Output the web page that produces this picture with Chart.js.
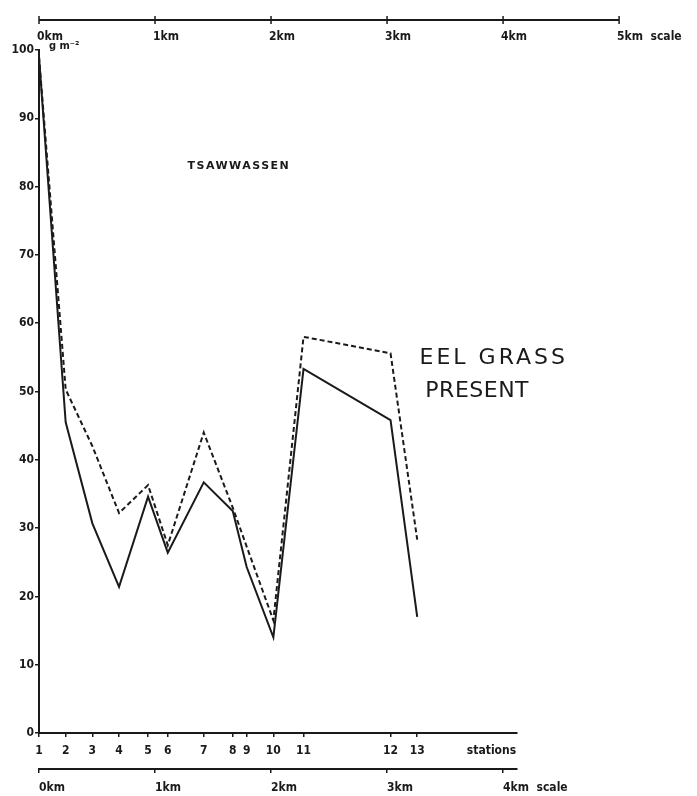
<!DOCTYPE html>
<html>
<head>
<meta charset="utf-8">
<script src="https://cdn.jsdelivr.net/npm/chart.js@4/dist/chart.umd.min.js"></script>
<style>
  html, body { margin: 0; padding: 0; background: #fff; }
</style>
</head>
<body>
<canvas id="myChart" width="697" height="796"></canvas>
<script>
// Estaciones y su posición a lo largo del transecto (km)
const stations = ['1', '2', '3', '4', '5', '6', '7', '8', '9', '10', '11', '12', '13'];
const stationKm = [0, 0.23, 0.46, 0.69, 0.94, 1.11, 1.42, 1.67, 1.79, 2.02, 2.28, 3.03, 3.26];

// Biomasa (g m-2)
const solidValues = [99, 45.5, 30.7, 21.4, 34.6, 26.4, 36.7, 32.5, 24.3, 14, 53.3, 45.8, 17];
const dashedValues = [99, 50.3, 42, 32.2, 36.3, 27.5, 44, 33, 27.3, 16.5, 58, 55.6, 28.3];

// Etiquetas de ejes
const yTicks = [0, 10, 20, 30, 40, 50, 60, 70, 80, 90, 100];
const topKm = [0, 1, 2, 3, 4, 5];
const topKmLabels = ['0km', '1km', '2km', '3km', '4km', '5km  scale'];
const bottomKm = [0, 1, 2, 3, 4];
const bottomKmLabels = ['0km', '1km', '2km', '3km', '4km  scale'];

const ink = '#1a1a1a';
const axisFont = { family: '"DejaVu Sans Condensed", "DejaVu Sans", sans-serif', size: 12, weight: 'bold' };
const xMax = 4.12;

// Textos sueltos y la escala superior
const notes = {
  id: 'notes',
  afterDraw(chart) {
    const { ctx, chartArea, scales: { x, y } } = chart;
    ctx.save();
    ctx.strokeStyle = ink;
    ctx.fillStyle = ink;

    // escala de 5 km arriba
    const barY = chartArea.top - 30;
    ctx.lineWidth = 2;
    ctx.beginPath();
    ctx.moveTo(x.getPixelForValue(topKm[0]), barY);
    ctx.lineTo(x.getPixelForValue(topKm[topKm.length - 1]), barY);
    ctx.stroke();
    ctx.lineWidth = 1.5;
    ctx.beginPath();
    topKm.forEach(k => {
      const px = x.getPixelForValue(k);
      ctx.moveTo(px, barY - 4);
      ctx.lineTo(px, barY + 4);
    });
    ctx.stroke();
    ctx.font = 'bold 12px "DejaVu Sans Condensed", "DejaVu Sans", sans-serif';
    ctx.textAlign = 'left';
    ctx.textBaseline = 'middle';
    topKm.forEach((k, i) => ctx.fillText(topKmLabels[i], x.getPixelForValue(k) - 2, barY + 17));

    // unidades
    ctx.font = 'bold 11px "DejaVu Sans Condensed", "DejaVu Sans", sans-serif';
    ctx.fillText('g m⁻²', x.getPixelForValue(0) + 10, chartArea.top - 4);

    // nombre del sitio
    ctx.font = 'bold 11px "DejaVu Sans", sans-serif';
    ctx.letterSpacing = '1.5px';
    ctx.fillText('TSAWWASSEN', x.getPixelForValue(1.28), y.getPixelForValue(83));

    // nota manuscrita
    ctx.font = '22px "DejaVu Sans", sans-serif';
    ctx.letterSpacing = '3px';
    ctx.fillText('EEL GRASS', x.getPixelForValue(3.28), y.getPixelForValue(54.9));
    ctx.letterSpacing = '0.5px';
    ctx.fillText('PRESENT', x.getPixelForValue(3.33), y.getPixelForValue(50));
    ctx.restore();
  }
};

const ctx = document.getElementById('myChart').getContext('2d');

const chart = new Chart(ctx, {
  type: 'line',
  data: {
    datasets: [{
      label: 'solid',
      data: stationKm.map((k, i) => ({ x: k, y: solidValues[i] })),
      borderColor: ink,
      borderWidth: 2,
      pointRadius: 0,
      tension: 0,
      fill: false
    }, {
      label: 'dashed',
      data: stationKm.map((k, i) => ({ x: k, y: dashedValues[i] })),
      borderColor: ink,
      borderWidth: 2,
      borderDash: [5, 3],
      pointRadius: 0,
      tension: 0,
      fill: false
    }]
  },
  options: {
    responsive: false,
    animation: false,
    events: [],
    layout: { padding: { top: 50, right: 180, bottom: 0, left: 0 } },
    plugins: {
      legend: { display: false },
      tooltip: { enabled: false }
    },
    scales: {
      x: {
        type: 'linear',
        position: 'bottom',
        weight: 1,
        min: 0,
        max: xMax,
        afterBuildTicks: (scale) => {
          scale.ticks = stationKm.map(v => ({ value: v })).concat([{ value: 3.9 }]);
        },
        afterFit: (scale) => { scale.height = 36; },
        border: { display: true, color: ink, width: 2 },
        grid: {
          drawOnChartArea: false,
          drawTicks: true,
          tickLength: 4,
          lineWidth: 1.5,
          color: (c) => c.index < stations.length ? ink : 'rgba(0,0,0,0)'
        },
        ticks: {
          autoSkip: false,
          maxRotation: 0,
          padding: 7,
          color: ink,
          font: axisFont,
          callback: (value, index) => index < stations.length ? stations[index] : 'stations'
        }
      },
      xkm: {
        type: 'linear',
        position: 'bottom',
        weight: 2,
        min: 0,
        max: xMax,
        afterBuildTicks: (scale) => {
          scale.ticks = bottomKm.map(v => ({ value: v }));
        },
        afterFit: (scale) => { scale.height = 27; },
        border: { display: true, color: ink, width: 2 },
        grid: {
          drawOnChartArea: false,
          drawTicks: true,
          tickLength: 4,
          lineWidth: 1.5,
          color: ink
        },
        ticks: {
          autoSkip: false,
          maxRotation: 0,
          align: 'start',
          padding: 8,
          color: ink,
          font: axisFont,
          callback: (value, index) => bottomKmLabels[index]
        }
      },
      y: {
        min: 0,
        max: 100,
        afterBuildTicks: (scale) => {
          scale.ticks = yTicks.map(v => ({ value: v }));
        },
        afterFit: (scale) => { scale.width = 39; },
        border: { display: true, color: ink, width: 2 },
        grid: {
          drawOnChartArea: false,
          drawTicks: true,
          tickLength: 4,
          lineWidth: 1.5,
          color: ink
        },
        ticks: {
          padding: 1,
          color: ink,
          font: axisFont
        }
      }
    }
  },
  plugins: [notes]
});
</script>
</body>
</html>
